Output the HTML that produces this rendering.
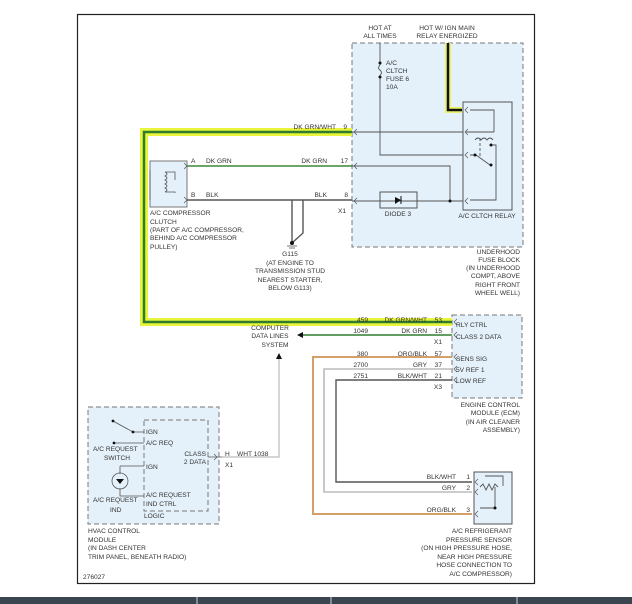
<!DOCTYPE html>
<html><head><meta charset="utf-8"><style>
html,body{margin:0;padding:0;background:#fff;}
svg{display:block;}
text{font-family:"Liberation Sans",sans-serif;font-size:6.6px;fill:#333;}
</style></head><body>
<svg width="632" height="604" viewBox="0 0 632 604" xmlns="http://www.w3.org/2000/svg">
<rect x="0" y="0" width="632" height="604" fill="#fff"/>
<rect x="77.5" y="14.5" width="457" height="569" fill="#fff" stroke="#222" stroke-width="1.2"/>
<rect x="0" y="597" width="632" height="7" fill="#3a4550"/>
<g stroke="#cfd4d8" stroke-width="1"><line x1="197" y1="597" x2="197" y2="604"/><line x1="331" y1="597" x2="331" y2="604"/><line x1="517" y1="597" x2="517" y2="604"/></g>

<g fill="#e4f1fa" stroke="#777" stroke-width="1" stroke-dasharray="5,3">
<rect x="352" y="43" width="171" height="204"/>
<rect x="452" y="315" width="70" height="83"/>
<rect x="88" y="407" width="131" height="117"/>
<rect x="144" y="420" width="64" height="91" fill="none"/>
</g>
<rect x="150" y="161" width="37" height="46" fill="#e4f1fa" stroke="#777"/>
<rect x="474" y="472" width="38" height="52" fill="#e4f1fa" stroke="#555"/>
<rect x="463" y="102" width="49" height="108" fill="none" stroke="#555"/>
<rect x="380" y="192" width="37" height="16" fill="none" stroke="#555"/>

<path d="M352 132 H144 V322 H452" fill="none" stroke="#e8f53a" stroke-width="8"/>
<path d="M352 132 H144 V322 H452" fill="none" stroke="#2e7d2e" stroke-width="2.5"/>
<path d="M448 43 V110 H462" fill="none" stroke="#eef26a" stroke-width="6"/>
<path d="M448 43 V110 H462" fill="none" stroke="#111" stroke-width="2.5"/>

<g fill="none" stroke-width="1.4">
<path d="M187 166 H352" stroke="#3a8a3a"/>
<path d="M187 200 H352" stroke="#555"/>
<path d="M292 200 V243 M303 200 V233 L292 243" stroke="#555"/>
<path d="M452 335 H300" stroke="#2e7d2e"/>
<path d="M452 357 H313 V514 H472" stroke="#d4a06a" stroke-width="2"/>
<path d="M452 369 H324 V492 H472" stroke="#bbb" stroke-width="1.6"/>
<path d="M452 380 H336 V482 H472" stroke="#555"/>
<path d="M222 457 H279 V358" stroke="#bbb" stroke-width="1.2"/>
</g>
<polygon points="297,335 303,332 303,338" fill="#111"/>
<polygon points="279,353 276,359 282,359" fill="#111"/>

<!-- connector chevrons -->
<g fill="none" stroke="#555" stroke-width="0.7">
<path d="M357 129 l-3 3 3 3 M357 163 l-3 3 3 3 M357 198 l-3 3 3 3"/>
<path d="M468 107 l-3 3 3 3 M468 129 l-3 3 3 3 M468 152 l-3 3 3 3 M468 198 l-3 3 3 3"/>
<path d="M457 319 l-3 3 3 3 M457 332 l-3 3 3 3 M457 354 l-3 3 3 3 M457 366 l-3 3 3 3 M457 377 l-3 3 3 3"/>
<path d="M478 479 l-3 3 3 3 M478 489 l-3 3 3 3 M478 511 l-3 3 3 3"/>
<path d="M214 454 l3 3 -3 3"/>
<path d="M184 163 l3 3 -3 3 M184 197 l3 3 -3 3"/>
</g>

<g fill="none" stroke="#555" stroke-width="0.9">
<path d="M380 43 V65 M380 75 V155 H463"/>
<path d="M380 65 q-3 3 0 5 q3 3 0 5"/>
<path d="M352 132 H463 M352 166 H450 V201 M352 201 H463"/>
<path d="M470 110 H494 V132 M466 132 H494" />
<path d="M470 155 H476 L490 165"/>
<path d="M490 145 H496 V200 H470"/>
<path d="M480 138 V158" stroke-dasharray="3,2"/>
<path d="M475 140 q3 -4 6 0 q3 -4 6 0 q3 -4 6 0"/>
<path d="M485 476 H503 V486 M480 487 l3 -3 3 6 3 -6 3 6 3 -6 3 3 M495 487 V508 H480 M150 170 V200"/>
</g>
<polygon points="395,197 395,204 401,200" fill="#111"/><line x1="401" y1="196" x2="401" y2="204" stroke="#111"/>
<g fill="#111"><circle cx="380" cy="63" r="1.5"/><circle cx="380" cy="77" r="1.5"/><circle cx="450" cy="201" r="1.5"/><circle cx="475" cy="155" r="1.5"/><circle cx="491" cy="165" r="1.5"/><circle cx="491" cy="145" r="1.5"/><circle cx="292" cy="243" r="2"/><circle cx="495" cy="508" r="1.5"/></g>
<g stroke="#555" stroke-width="0.8"><line x1="287" y1="246" x2="297" y2="246"/><line x1="289" y1="248" x2="295" y2="248"/></g>
<path d="M165 172 q4 2 0 4 q4 2 0 4 q4 2 0 4 q4 2 0 4 q4 2 0 4 M165 172 H175 V180 M165 192 H175 V193" fill="none" stroke="#555" stroke-width="0.8"/>
<g fill="none" stroke="#555" stroke-width="0.8">
<path d="M113 421 L133 432 H144 M114 443 H144 M120 466 H144 M120 466 V474 M120 488 V496 H144 M208 457 H222"/>
<circle cx="120" cy="481" r="8"/>
</g>
<polygon points="116,479 124,479 120,484" fill="#111"/>
<g fill="#111"><circle cx="113" cy="421" r="1.4"/><circle cx="133" cy="432" r="1.4"/><circle cx="114" cy="443" r="1.4"/></g>

<g text-anchor="middle">
<text x="380" y="30">HOT AT</text><text x="380" y="38">ALL TIMES</text>
<text x="447" y="30">HOT W/ IGN MAIN</text><text x="447" y="38">RELAY ENERGIZED</text>
<text x="398" y="216">DIODE 3</text><text x="487" y="218">A/C CLTCH RELAY</text>
<text x="290" y="256">G115</text>
<text x="290" y="265">(AT ENGINE TO</text><text x="290" y="273">TRANSMISSION STUD</text><text x="290" y="282">NEAREST STARTER,</text><text x="290" y="290">BELOW G113)</text>
<text x="270" y="330">COMPUTER</text><text x="270" y="338">DATA LINES</text><text x="275" y="347">SYSTEM</text>
</g>
<text x="386" y="65">A/C</text><text x="386" y="73">CLTCH</text><text x="386" y="81">FUSE 6</text><text x="386" y="89">10A</text>
<g text-anchor="end">
<text x="520" y="254">UNDERHOOD</text><text x="520" y="262">FUSE BLOCK</text><text x="520" y="270">(IN UNDERHOOD</text><text x="520" y="278">COMPT, ABOVE</text><text x="520" y="287">RIGHT FRONT</text><text x="520" y="295">WHEEL WELL)</text>
<text x="336" y="129">DK GRN/WHT</text><text x="347" y="129">9</text>
<text x="327" y="163">DK GRN</text><text x="348" y="163">17</text>
<text x="327" y="197">BLK</text><text x="348" y="197">8</text>
<text x="368" y="322">459</text><text x="427" y="322">DK GRN/WHT</text><text x="442" y="322">53</text>
<text x="368" y="333">1049</text><text x="427" y="333">DK GRN</text><text x="442" y="333">15</text>
<text x="442" y="344">X1</text>
<text x="368" y="356">380</text><text x="427" y="356">ORG/BLK</text><text x="442" y="356">57</text>
<text x="368" y="367">2700</text><text x="427" y="367">GRY</text><text x="442" y="367">37</text>
<text x="368" y="378">2751</text><text x="427" y="378">BLK/WHT</text><text x="442" y="378">21</text>
<text x="442" y="389">X3</text>
<text x="520" y="407">ENGINE CONTROL</text><text x="520" y="415">MODULE (ECM)</text><text x="520" y="424">(IN AIR CLEANER</text><text x="520" y="432">ASSEMBLY)</text>
<text x="456" y="479">BLK/WHT</text><text x="470" y="479">1</text>
<text x="456" y="490">GRY</text><text x="470" y="490">2</text>
<text x="456" y="512">ORG/BLK</text><text x="470" y="512">3</text>
<text x="512" y="533">A/C REFRIGERANT</text><text x="512" y="542">PRESSURE SENSOR</text><text x="512" y="550">(ON HIGH PRESSURE HOSE,</text><text x="512" y="559">NEAR HIGH PRESSURE</text><text x="512" y="567">HOSE CONNECTION TO</text><text x="512" y="576">A/C COMPRESSOR)</text>
<text x="206" y="456">CLASS</text><text x="206" y="464">2 DATA</text>
</g>
<text x="338" y="213">X1</text>
<text x="191" y="163">A</text><text x="206" y="163">DK GRN</text>
<text x="191" y="197">B</text><text x="206" y="197">BLK</text>
<text x="150" y="215">A/C COMPRESSOR</text><text x="150" y="224">CLUTCH</text><text x="150" y="232">(PART OF A/C COMPRESSOR,</text><text x="150" y="240">BEHIND A/C COMPRESSOR</text><text x="150" y="249">PULLEY)</text>
<text x="456" y="327">RLY CTRL</text><text x="456" y="339">CLASS 2 DATA</text>
<text x="456" y="361">SENS SIG</text><text x="456" y="372">5V REF 1</text><text x="456" y="383">LOW REF</text>
<text x="146" y="434">IGN</text><text x="146" y="445">A/C REQ</text><text x="146" y="469">IGN</text>
<text x="146" y="497">A/C REQUEST</text><text x="146" y="506">IND CTRL</text><text x="144" y="518">LOGIC</text>
<text x="93" y="451">A/C REQUEST</text><text x="104" y="460">SWITCH</text>
<text x="93" y="502">A/C REQUEST</text><text x="110" y="512">IND</text>
<text x="225" y="456">H</text><text x="237" y="456">WHT 1038</text><text x="225" y="467">X1</text>
<text x="88" y="533">HVAC CONTROL</text><text x="88" y="542">MODULE</text><text x="88" y="550">(IN DASH CENTER</text><text x="88" y="559">TRIM PANEL, BENEATH RADIO)</text>
<text x="83" y="579">276027</text>
</svg>
</body></html>
